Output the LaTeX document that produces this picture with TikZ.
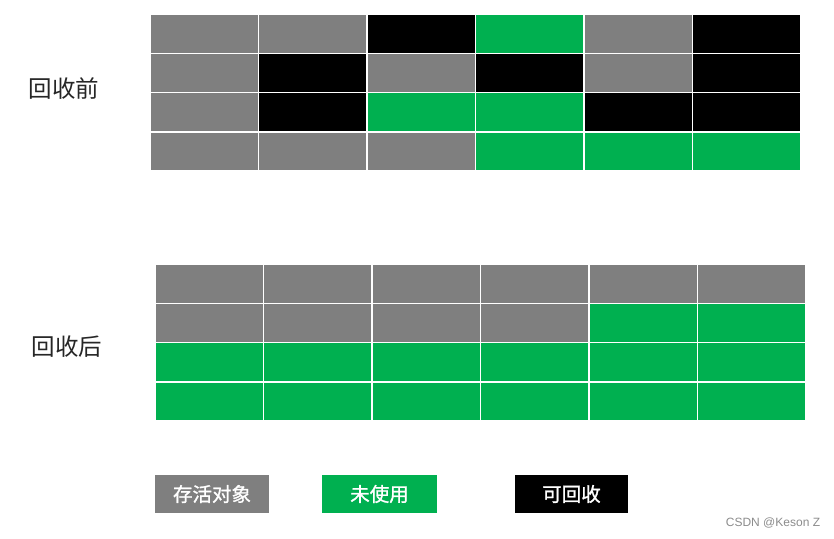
\documentclass[tikz,border=0pt]{standalone}
\usepackage{fontspec}
\setsansfont{Liberation Sans}
\newfontfamily\cjk{Noto Sans CJK SC}
\definecolor{live}{HTML}{7F7F7F}
\definecolor{free}{HTML}{00B050}
\definecolor{dead}{HTML}{000000}
\begin{document}
\begin{tikzpicture}[x=1pt,y=-1pt,
  cell/.style={draw=white, line width=1.5pt, minimum width=108.5pt, minimum height=39.25pt, inner sep=0pt, outer sep=0pt, anchor=north west},
  lab/.style={font=\cjk\fontsize{23.5}{28}\selectfont, text=black!85, inner sep=0pt},
  leg/.style={minimum height=38pt, inner sep=0pt, text=white, font=\cjk\fontsize{19.5}{23}\selectfont},
  wm/.style={font=\sffamily\fontsize{12}{14}\selectfont, text=black!45, inner sep=0pt}]
\useasboundingbox[fill=white] (0,0) rectangle (834,538);
% before collection
\foreach \row [count=\r from 0] in {{live,live,dead,free,live,dead},{live,dead,live,dead,live,dead},{live,dead,free,free,dead,dead},{live,live,live,free,free,free}}{
  \foreach \c [count=\k from 0] in \row {
    \node[cell, fill=\c] (t\r\k) at ({150+\k*108.5},{14+\r*39.25}) {};
  }
}
% after collection
\foreach \row [count=\r from 0] in {{live,live,live,live,live,live},{live,live,live,live,free,free},{free,free,free,free,free,free},{free,free,free,free,free,free}}{
  \foreach \c [count=\k from 0] in \row {
    \node[cell, fill=\c] (b\r\k) at ({155+\k*108.5},{264+\r*39.25}) {};
  }
}
\node[lab] (before) at (64,89) {回收前};
\node[lab] (after) at (67,347) {回收后};
\node[leg, fill=live, minimum width=114pt] (l1) at (212,494) {\addfontfeature{FakeBold=1.2}存活对象};
\node[leg, fill=free, minimum width=115pt] (l2) at (379.5,494) {\addfontfeature{FakeBold=1.2}未使用};
\node[leg, fill=dead, minimum width=113pt] (l3) at (571.5,494) {\addfontfeature{FakeBold=1.2}可回收};
\node[wm] (mark) at (773,523) {CSDN @Keson Z};
\end{tikzpicture}
\end{document}
